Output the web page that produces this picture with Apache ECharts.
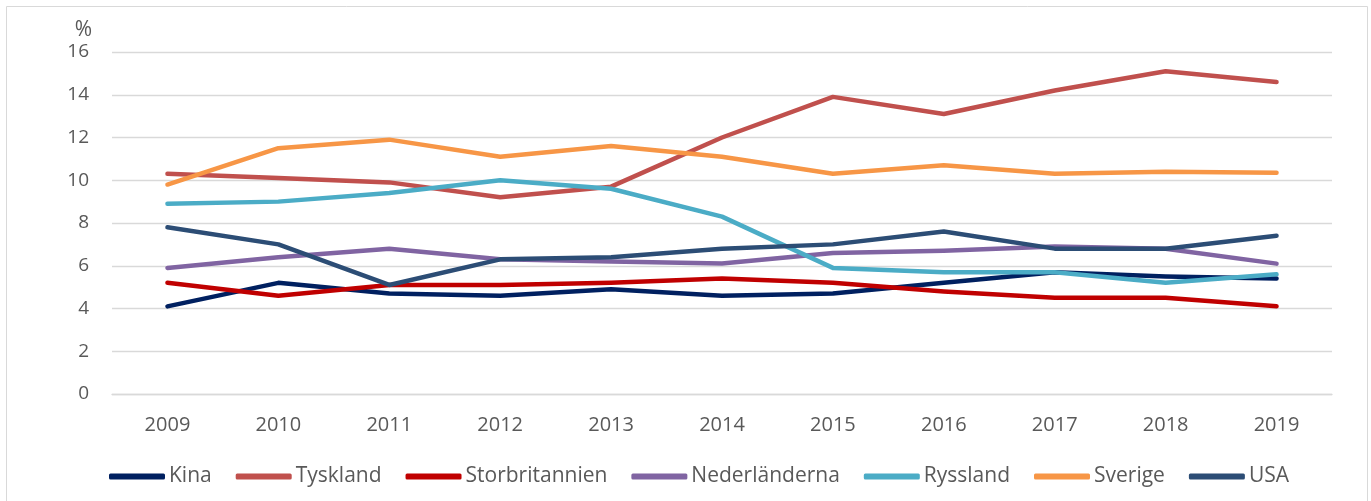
<!DOCTYPE html>
<html>
<head>
<meta charset="utf-8">
<script src="https://cdn.jsdelivr.net/npm/echarts@6/dist/echarts.min.js"></script>
<style>
  html, body { margin: 0; padding: 0; background: #fff; }
  #chart { width: 1371px; height: 501px; }
</style>
</head>
<body>
<div id="chart"></div>
<script>
// years on the x axis
var years = ["2009", "2010", "2011", "2012", "2013", "2014", "2015", "2016", "2017", "2018", "2019"];

// share in percent
var kina = [4.1, 5.2, 4.7, 4.6, 4.9, 4.6, 4.7, 5.2, 5.7, 5.5, 5.4];
var tyskland = [10.3, 10.1, 9.9, 9.2, 9.7, 12.0, 13.9, 13.1, 14.2, 15.1, 14.6];
var storbritannien = [5.2, 4.6, 5.1, 5.1, 5.2, 5.4, 5.2, 4.8, 4.5, 4.5, 4.1];
var nederlanderna = [5.9, 6.4, 6.8, 6.3, 6.2, 6.1, 6.6, 6.7, 6.9, 6.8, 6.1];
var ryssland = [8.9, 9.0, 9.4, 10.0, 9.6, 8.3, 5.9, 5.7, 5.7, 5.2, 5.6];
var sverige = [9.8, 11.5, 11.9, 11.1, 11.6, 11.1, 10.3, 10.7, 10.3, 10.4, 10.35];
var usa = [7.8, 7.0, 5.1, 6.3, 6.4, 6.8, 7.0, 7.6, 6.8, 6.8, 7.4];

var seriesNames = ["Kina", "Tyskland", "Storbritannien", "Nederländerna", "Ryssland", "Sverige", "USA"];
var seriesData = [kina, tyskland, storbritannien, nederlanderna, ryssland, sverige, usa];
var colors = ["#002060", "#C0504D", "#C00000", "#8064A2", "#4BACC6", "#F79646", "#2C4D75"];

var font = "'Open Sans', sans-serif";
var textColor = "#595959";

var chart = echarts.init(document.getElementById("chart"));

var series = seriesNames.map(function (name, i) {
  return {
    name: name,
    type: "line",
    data: seriesData[i],
    showSymbol: false,
    symbol: "none",
    smooth: false,
    lineStyle: { width: 4.5, color: colors[i], cap: "round", join: "round" },
    itemStyle: { color: colors[i] },
    emphasis: { disabled: true }
  };
});

chart.setOption({
  animation: false,
  color: colors,
  textStyle: { fontFamily: font },
  graphic: [{
    type: "rect",
    shape: { x: 6.5, y: 6.5, width: 1361, height: 520 },
    style: { fill: "none", stroke: "#d9d9d9", lineWidth: 1 },
    silent: true
  }],
  grid: { left: 112, right: 39, top: 52, bottom: 107, containLabel: false },
  legend: {
    left: 104,
    top: 461,
    icon: "roundRect",
    itemWidth: 56,
    itemHeight: 6,
    itemGap: 24,
    data: seriesNames,
    textStyle: { color: textColor, fontSize: 21, fontFamily: font, padding: [0, 0, 0, -1] }
  },
  xAxis: {
    type: "category",
    data: years,
    boundaryGap: true,
    axisLine: { show: true, lineStyle: { color: "#d9d9d9", width: 1.3 } },
    axisTick: { show: false },
    axisLabel: { color: textColor, fontSize: 20, margin: 21, fontFamily: font },
    splitLine: { show: false }
  },
  yAxis: {
    type: "value",
    min: 0,
    max: 16,
    interval: 2,
    name: "%",
    nameLocation: "end",
    nameGap: 22,
    nameTextStyle: { color: textColor, fontSize: 21, align: "right", verticalAlign: "middle", padding: [0, 20, 0, 0], fontFamily: font },
    axisLine: { show: false },
    axisTick: { show: false },
    axisLabel: { color: textColor, fontSize: 19, margin: 23, fontFamily: font },
    splitLine: { lineStyle: { color: "#d9d9d9", width: 1.3 } }
  },
  series: series
});
</script>
</body>
</html>
